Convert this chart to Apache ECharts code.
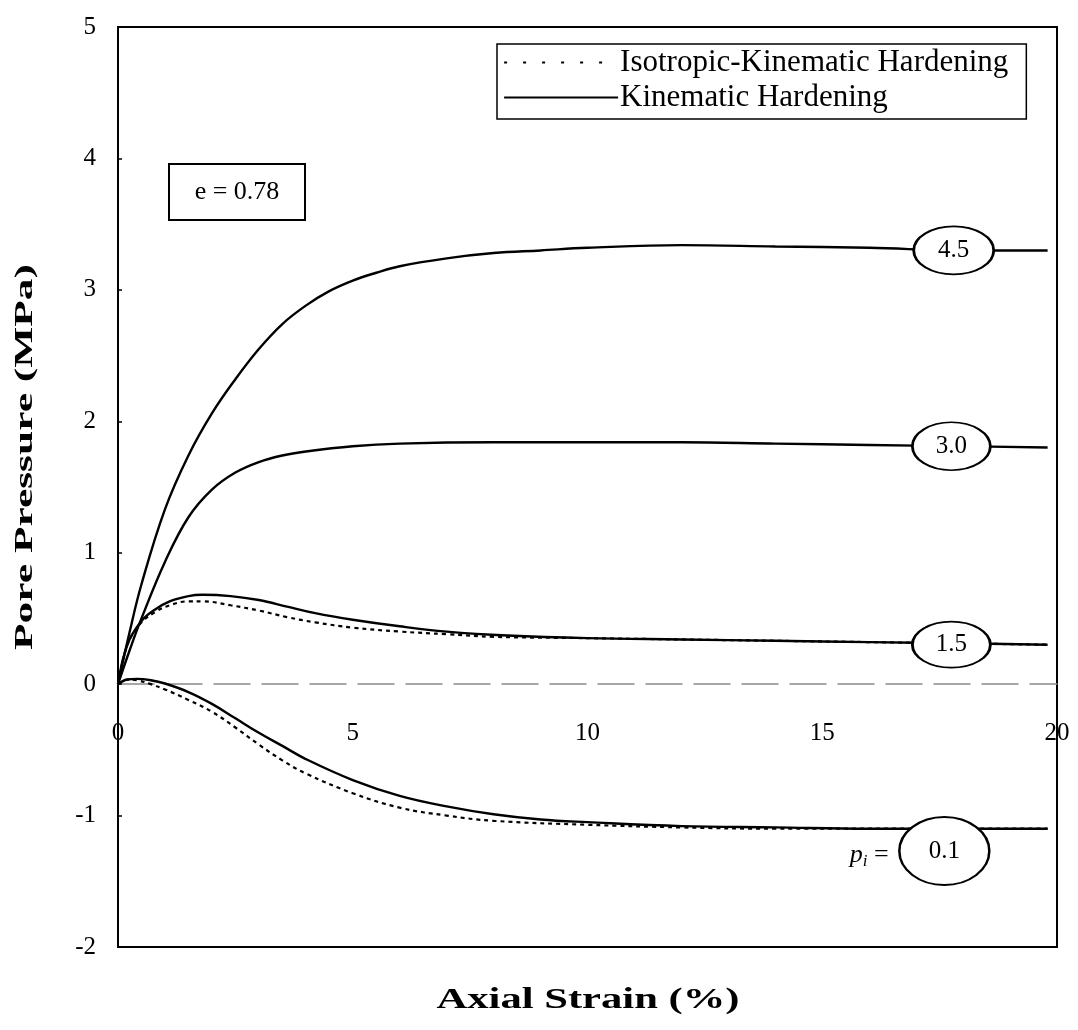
<!DOCTYPE html>
<html>
<head>
<meta charset="utf-8">
<script src="https://cdn.jsdelivr.net/npm/echarts@6/dist/echarts.min.js"></script>
<style>
  html, body { margin: 0; padding: 0; background: #fff; }
  #chart { width: 1078px; height: 1030px; }
</style>
</head>
<body>
<div id="chart"></div>
<script>
// Pore pressure vs axial strain, undrained triaxial, e = 0.78
// Each curve: [axial strain %, pore pressure MPa]
const kin45 = [[0,0],[0.25,0.4],[0.5,0.76],[1,1.33],[1.5,1.74],[2,2.06],[2.5,2.32],[3,2.55],[3.5,2.74],[4,2.88],[4.5,2.99],[5,3.07],[5.5,3.13],[6,3.18],[7,3.24],[8,3.28],[9,3.3],[10,3.32],[12,3.34],[14,3.33],[16,3.32],[18,3.3],[19.8,3.3]];
const kin30 = [[0,0],[0.25,0.26],[0.5,0.5],[1,0.93],[1.5,1.27],[2,1.48],[2.5,1.61],[3,1.69],[3.5,1.74],[4,1.77],[5,1.81],[6,1.83],[8,1.84],[10,1.84],[12,1.84],[14,1.83],[16,1.82],[18,1.81],[19.8,1.8]];
const kin15 = [[0,0],[0.2,0.3],[0.5,0.48],[0.8,0.57],[1.1,0.63],[1.5,0.67],[1.8,0.68],[2.4,0.67],[3,0.64],[3.6,0.59],[4.2,0.54],[5,0.49],[6,0.44],[7,0.4],[8.3,0.37],[10,0.35],[12,0.34],[14,0.33],[16,0.32],[18,0.31],[19.8,0.3]];
const kin01 = [[0,0],[0.2,0.035],[0.4,0.04],[0.7,0.03],[1,0.005],[1.5,-0.06],[2,-0.15],[2.5,-0.26],[3,-0.37],[3.5,-0.47],[4,-0.57],[5,-0.73],[6,-0.85],[7,-0.93],[8,-0.99],[9,-1.03],[10,-1.05],[12,-1.08],[14,-1.09],[16,-1.1],[19.8,-1.1]];
const iso15 = [[0,0],[0.2,0.3],[0.5,0.47],[0.8,0.55],[1.1,0.6],[1.5,0.63],[1.8,0.63],[2.4,0.6],[3,0.56],[3.6,0.51],[4.2,0.47],[5,0.43],[6,0.4],[7,0.38],[8,0.36],[10,0.35],[12,0.34],[14,0.33],[16,0.32],[18,0.31],[19.8,0.3]];
const iso01 = [[0,0],[0.2,0.035],[0.4,0.03],[0.7,0],[1,-0.04],[1.5,-0.12],[2,-0.21],[2.5,-0.33],[3,-0.46],[3.5,-0.58],[4,-0.68],[5,-0.83],[6,-0.94],[7,-1.0],[8,-1.04],[10,-1.07],[12,-1.09],[14,-1.1],[16,-1.1],[19.8,-1.1]];

// Initial mean stress tags (MPa) and where each tag sits on its curve
const tagTexts = ['4.5', '3.0', '1.5', '0.1'];
const tagCoords = [[17.8, 3.3], [17.75, 1.81], [17.75, 0.3], [17.6, -1.27]];
const tagSizes = [[80, 48], [78, 48], [78, 46], [90, 68]];

const xTicks = [0, 5, 10, 15, 20];
const yTicks = [-2, -1, 0, 1, 2, 3, 4, 5];

const NAME_ISO = 'Isotropic-Kinematic Hardening';
const NAME_KIN = 'Kinematic Hardening';
const X_TITLE = 'Axial Strain (%)';
const Y_TITLE = 'Pore Pressure (MPa)';
const SERIF = '"Liberation Serif", "DejaVu Serif", serif';
const ELLIPSE = 'path://M0,50 A100,50 0 1,1 200,50 A100,50 0 1,1 0,50 Z';

function tag(i) {
  return {
    coord: tagCoords[i],
    symbol: ELLIPSE,
    symbolSize: tagSizes[i],
    itemStyle: { color: '#fff', borderColor: '#000', borderWidth: 2.2 },
    label: { show: true, position: 'inside', formatter: tagTexts[i],
             color: '#000', fontSize: 25, fontFamily: SERIF }
  };
}

function solid(data, marks) {
  return {
    name: NAME_KIN, type: 'line', data: data, showSymbol: false, symbol: 'none',
    smooth: 0.4, z: 3, color: '#000',
    lineStyle: { color: '#000', width: 2.4, type: 'solid' },
    markPoint: marks ? { silent: true, animation: false, data: marks } : undefined
  };
}
function dotted(data) {
  return {
    name: NAME_ISO, type: 'line', data: data, showSymbol: false, symbol: 'none',
    smooth: 0.4, z: 2, color: '#000',
    lineStyle: { color: '#000', width: 2.2, type: [4, 4] }
  };
}

const piLabel = {
  coord: [16.0, -1.3],
  symbol: 'rect', symbolSize: 1,
  itemStyle: { color: 'rgba(0,0,0,0)' },
  label: {
    show: true, position: 'inside', color: '#000',
    formatter: '{p|p}{i|i}{eq| =}',
    rich: {
      p: { fontSize: 26, fontStyle: 'italic', fontFamily: SERIF, color: '#000' },
      i: { fontSize: 17, fontStyle: 'italic', fontFamily: SERIF, color: '#000', padding: [14, 0, 0, 0] },
      eq: { fontSize: 26, fontFamily: SERIF, color: '#000' }
    }
  }
};

const chart = echarts.init(document.getElementById('chart'), null, { renderer: 'canvas' });
chart.setOption({
  animation: false,
  backgroundColor: '#fff',
  grid: { left: 118, right: 21, top: 27, bottom: 83, show: true, outerBoundsMode: 'none',
          containLabel: false,
          borderColor: '#000', borderWidth: 2, backgroundColor: 'transparent' },
  legend: {
    orient: 'vertical', left: 497, top: 44,
    data: [
      { name: NAME_ISO, lineStyle: { type: [3, 16], width: 2.2 } },
      { name: NAME_KIN }
    ],
    itemWidth: 114, itemHeight: 14, itemGap: 4,
    padding: [3, 18, 6, 6],
    itemStyle: { opacity: 0 },
    borderColor: '#000', borderWidth: 1.5, backgroundColor: '#fff',
    textStyle: { fontSize: 31, fontFamily: SERIF, color: '#000', padding: [0, 0, 0, -3] },
    selectedMode: false
  },
  xAxis: {
    type: 'value', min: xTicks[0], max: xTicks[xTicks.length - 1], interval: 5,
    axisLine: { onZero: true, lineStyle: { color: '#8a8a8a', width: 1.5, type: [36, 12] } },
    axisTick: { show: false },
    splitLine: { show: false },
    // tick labels sit just under the zero line
    axisLabel: { margin: -226, fontSize: 25, fontFamily: SERIF, color: '#000' }
  },
  yAxis: {
    type: 'value', min: yTicks[0], max: yTicks[yTicks.length - 1], interval: 1,
    axisLine: { show: true, lineStyle: { color: '#000', width: 2 } },
    axisTick: { show: true, inside: true, length: 4, lineStyle: { color: '#000', width: 1.5 } },
    splitLine: { show: false },
    axisLabel: { margin: 22, fontSize: 25, fontFamily: SERIF, color: '#000' }
  },
  graphic: [
    {
      type: 'group', left: 168, top: 163,
      children: [
        { type: 'rect', shape: { x: 0, y: 0, width: 136, height: 56 },
          style: { fill: '#fff', stroke: '#000', lineWidth: 2 } },
        { type: 'text', x: 68, y: 28,
          style: { text: 'e = 0.78', fontSize: 26, fontFamily: SERIF, fill: '#000',
                   align: 'center', verticalAlign: 'middle' } }
      ]
    },
    // axis titles (wide bold serif)
    {
      type: 'text', x: 588, y: 1001, scaleX: 1.47,
      style: { text: X_TITLE, fontSize: 29, fontWeight: 'bold', fontFamily: SERIF, fill: '#000',
               align: 'center', verticalAlign: 'middle' }
    },
    {
      type: 'text', x: 25, y: 457, rotation: Math.PI / 2, scaleX: 1.67,
      style: { text: Y_TITLE, fontSize: 26, fontWeight: 'bold', fontFamily: SERIF, fill: '#000',
               align: 'center', verticalAlign: 'middle' }
    }
  ],
  series: [
    dotted(iso15),
    dotted(iso01),
    solid(kin45, [tag(0)]),
    solid(kin30, [tag(1)]),
    solid(kin15, [tag(2)]),
    solid(kin01, [tag(3), piLabel])
  ]
});
</script>
</body>
</html>
